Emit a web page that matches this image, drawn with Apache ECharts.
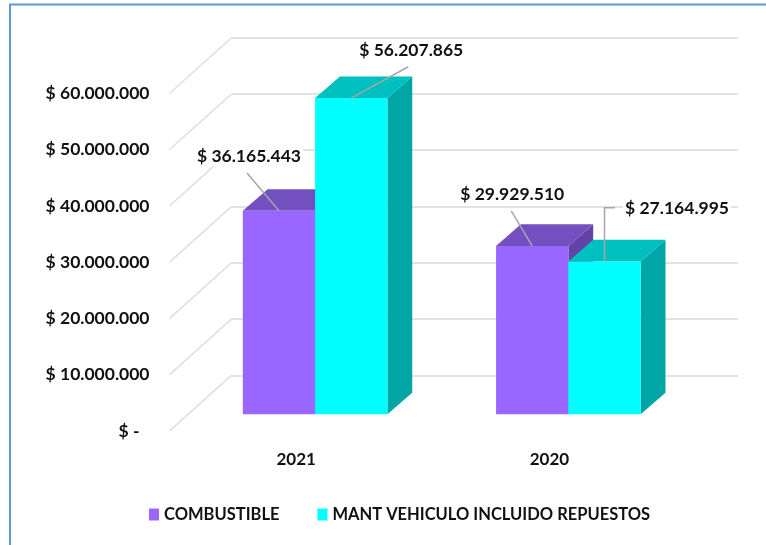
<!DOCTYPE html>
<html>
<head>
<meta charset="utf-8">
<style>html,body{margin:0;padding:0;background:#fff}#c{width:766px;height:545px}</style>
<script src="https://cdn.jsdelivr.net/npm/echarts@6/dist/echarts.min.js"></script>
</head>
<body>
<div id="c"></div>
<script>
var categories = ['2021', '2020'];
var combustible = [36165443, 29929510];
var mantenimiento = [56207865, 27164995];
var yTicks = [0, 10000000, 20000000, 30000000, 40000000, 50000000, 60000000];
var seriesNames = ['COMBUSTIBLE', 'MANT VEHICULO INCLUIDO REPUESTOS'];

var FONT = 'Lato';
var FLOOR_DX = -62, FLOOR_DY = 55.7;
var BAR_FRONT = [-43, 39], BAR_BACK = [-18.2, 17.4];
var BAR_RATIO = 0.2855;

function money(v) {
  return '$ ' + String(v).replace(/\B(?=(\d{3})+$)/g, '.');
}
function poly(points, fill, z2) {
  return { type: 'polygon', shape: { points: points }, style: { fill: fill }, z2: z2 || 0 };
}
function barRenderer(slot, colors, labelOffsets, leaders) {
  return function (params, api) {
    var idx = api.value(0), val = api.value(1);
    var top = api.coord([idx, val]), base = api.coord([idx, 0]);
    var w = api.size([1, 0])[0] * BAR_RATIO;
    var x0 = top[0] + slot * w + BAR_FRONT[0], x1 = x0 + w;
    var yT = top[1] + BAR_FRONT[1], yB = base[1] + BAR_FRONT[1];
    var dx = BAR_BACK[0] - BAR_FRONT[0], dy = BAR_BACK[1] - BAR_FRONT[1];
    var ax = (x0 + x1) / 2, ay = yT;
    var off = labelOffsets[idx];
    var pts = [[ax, ay]].concat(leaders[idx].map(function (p) { return [ax + p[0], ay + p[1]]; }));
    return {
      type: 'group',
      children: [
        poly([[x1, yT], [x1 + dx, yT + dy], [x1 + dx, yB + dy], [x1, yB]], colors[2]),
        poly([[x0, yT], [x1, yT], [x1 + dx, yT + dy], [x0 + dx, yT + dy]], colors[1]),
        poly([[x0, yT], [x1, yT], [x1, yB], [x0, yB]], colors[0], 1),
        {
          type: 'text', z2: 100,
          style: {
            text: money(val), x: ax + off[0], y: ay + off[1],
            align: 'center', verticalAlign: 'middle',
            fill: '#111', font: '700 17.5px ' + FONT,
            backgroundColor: '#fff', padding: [1, 2, 1, 2]
          }
        },
        {
          type: 'polyline', z2: 101,
          shape: { points: pts },
          style: { stroke: '#A6A6A6', lineWidth: 1.5, fill: 'none' }
        }
      ]
    };
  };
}

var chart = echarts.init(document.getElementById('c'), null, { renderer: 'canvas' });
chart.setOption({
  animation: false,
  backgroundColor: '#fff',
  graphic: [{
    type: 'rect', silent: true, z: -1,
    shape: { x: 10, y: 4.5, width: 800, height: 600 },
    style: { fill: 'none', stroke: '#5B9BD5', lineWidth: 2 }
  }],
  legend: {
    data: seriesNames, left: 144, top: 501, icon: 'rect',
    itemWidth: 10, itemHeight: 12, itemGap: 38,
    textStyle: { fontFamily: FONT, fontWeight: 700, fontSize: 16.5, color: '#111' }
  },
  grid: [
    { left: 231.5, top: 37.7, width: 506.5, height: 337.6 },
    { left: 169.5, top: 93.4, width: 506.5, height: 337.6 }
  ],
  xAxis: [
    { gridIndex: 0, type: 'category', data: categories, axisLine: { show: false }, axisTick: { show: false }, axisLabel: { show: false } },
    { gridIndex: 1, type: 'category', data: categories, axisLine: { show: false }, axisTick: { show: false },
      axisLabel: { margin: 20, fontFamily: FONT, fontWeight: 700, fontSize: 17, color: '#111' } }
  ],
  yAxis: [
    { gridIndex: 0, type: 'value', min: 0, max: 60000000, interval: 10000000,
      axisLine: { show: false }, axisTick: { show: false }, axisLabel: { show: false },
      splitLine: { show: true, lineStyle: { color: '#D9D9D9', width: 1.5 } } },
    { gridIndex: 1, type: 'value', min: 0, max: 60000000, interval: 10000000,
      axisLine: { show: false }, axisTick: { show: false }, splitLine: { show: false },
      axisLabel: {
        margin: 20, fontFamily: FONT, fontWeight: 700, fontSize: 17.5, color: '#111',
        formatter: function (v) { return v === 0 ? '{z|$ -}' : money(v); },
        rich: { z: { fontFamily: FONT, fontWeight: 700, fontSize: 17.5, color: '#111', padding: [0, 10, 0, 0] } }
      } }
  ],
  series: [
    {
      type: 'custom', name: 'wall', z: 1, silent: true, xAxisIndex: 0, yAxisIndex: 0,
      data: yTicks.map(function (t) { return [0, t]; }),
      encode: { x: 0, y: 1 },
      renderItem: function (params, api) {
        var y = api.coord([0, api.value(1)])[1], x = params.coordSys.x;
        return { type: 'line', shape: { x1: x, y1: y, x2: x + FLOOR_DX, y2: y + FLOOR_DY },
          style: { stroke: '#D9D9D9', lineWidth: 1.2 } };
      }
    },
    {
      type: 'custom', name: seriesNames[0], z: 3, xAxisIndex: 0, yAxisIndex: 0,
      itemStyle: { color: '#9966FF' },
      data: combustible.map(function (v, i) { return [i, v]; }),
      encode: { x: 0, y: 1 },
      renderItem: barRenderer(-1, ['#9966FF', '#7350BF', '#6344A6'],
        [[-30, -54.5], [-20, -52]],
        [[[-32, -37.7]], [[-21, -35]]])
    },
    {
      type: 'custom', name: seriesNames[1], z: 4, xAxisIndex: 0, yAxisIndex: 0,
      itemStyle: { color: '#00FFFF' },
      data: mantenimiento.map(function (v, i) { return [i, v]; }),
      encode: { x: 0, y: 1 },
      renderItem: barRenderer(0, ['#00FFFF', '#00BFBF', '#00A6A6'],
        [[60, -47.6], [72.5, -52.6]],
        [[[57, -31.3]], [[0, -53.6], [10.3, -53.6]]])
    }
  ]
});
</script>
</body>
</html>
